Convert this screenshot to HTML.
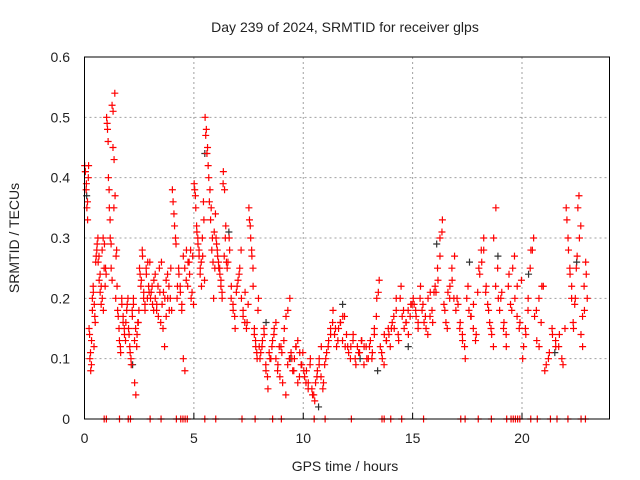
<!DOCTYPE html>
<html><head><meta charset="utf-8"><style>
body{margin:0;background:#fff}
svg{display:block;font-family:"Liberation Sans",sans-serif}
</style></head><body>
<svg id="chart" width="640" height="480">
<rect width="640" height="480" fill="#fff"/>
<g id="grid"></g><g id="pts"></g><g id="axes"></g>
<text x="345" y="32" text-anchor="middle" font-size="14" fill="#222">Day 239 of 2024, SRMTID for receiver glps</text>
<text x="345" y="471" text-anchor="middle" font-size="14" fill="#222">GPS time / hours</text>
<text x="19" y="238" text-anchor="middle" font-size="14" fill="#222" transform="rotate(-90 19 238)">SRMTID / TECUs</text>
</svg>
<script>
const xTicks=[0,5,10,15,20];
const yTicks=[0,0.1,0.2,0.3,0.4,0.5,0.6];
const yTickLabels=["0","0.1","0.2","0.3","0.4","0.5","0.6"];
const groupStart=[0,0.2,0.5,1.0,1.5,2.0,2.5,3.0,4.0,5.0,5.5,6.0,6.5,7.5,8.0,10.0,11.0,12.0,13.0,14.0,15.0,16.0,17.0,18.0,19.0,20.0,21.0,22.0];
const groupEnd=[0.2,0.5,1.0,1.5,2.0,2.5,3.0,4.0,5.0,5.5,6.0,6.5,7.5,8.0,10.0,11.0,12.0,13.0,14.0,15.0,16.0,17.0,18.0,19.0,20.0,21.0,22.0,23.0];
const groupValues=[
[0.42,0.41,0.38,0.35,0.33,0.4],
[0.15,0.1,0.08,0.13,0.2,0.22,0.12,0.17],
[0.26,0.28,0.3,0.27,0.24,0.22,0.2,0.18,0.29,0.25],
[0.5,0.48,0.4,0.35,0.3,0.25,0.52,0.45,0.35,0.54,0.2,0.28],
[0.18,0.15,0.12,0.2,0.17,0.14,0.16,0.19],
[0.15,0.12,0.1,0.18,0.2,0.06,0.04,0.14,0.16],
[0.25,0.22,0.28,0.2,0.18,0.24,0.26,0.21],
[0.2,0.22,0.18,0.24,0.19,0.17,0.21,0.26,0.15,0.12,0.23,0.2,0.18,0.25],
[0.38,0.34,0.3,0.2,0.25,0.22,0.18,0.1,0.08,0.28,0.26,0.24,0.2,0.27],
[0.39,0.37,0.32,0.3,0.28,0.25,0.22,0.27,0.33],
[0.5,0.48,0.45,0.4,0.38,0.35,0.3,0.2,0.25],
[0.3,0.28,0.26,0.25,0.22,0.2,0.41,0.38,0.32],
[0.25,0.3,0.2,0.18,0.15,0.22,0.24,0.28,0.17,0.21,0.16],
[0.35,0.32,0.28,0.25,0.15,0.12,0.1,0.2],
[0.1,0.12,0.15,0.08,0.05,0.1,0.12,0.14,0.16,0.09,0.07,0.11,0.13,0.04,0.18,0.2,0.1,0.08,0.12,0.06,0.11,0.09],
[0.08,0.06,0.05,0.1,0.04,0.03,0.07,0.09,0.12,0.06],
[0.1,0.12,0.14,0.18,0.15,0.13,0.16,0.17,0.12],
[0.12,0.1,0.14,0.09,0.11,0.13,0.12,0.1],
[0.12,0.1,0.15,0.2,0.23,0.11,0.09,0.13,0.14],
[0.15,0.17,0.2,0.13,0.22,0.18,0.16,0.14,0.19],
[0.2,0.18,0.15,0.22,0.19,0.17,0.14,0.21,0.16],
[0.22,0.25,0.3,0.33,0.18,0.15,0.2,0.23,0.27],
[0.2,0.15,0.13,0.1,0.22,0.17,0.19,0.14],
[0.25,0.28,0.3,0.22,0.18,0.15,0.12,0.35,0.2],
[0.2,0.15,0.12,0.24,0.18,0.27,0.22,0.16],
[0.1,0.15,0.2,0.28,0.3,0.18,0.12,0.22],
[0.08,0.1,0.15,0.12,0.14,0.09],
[0.35,0.3,0.25,0.22,0.15,0.2,0.27,0.37,0.32,0.12,0.18,0.24]
];
const groupValues2=[
[0.41,0.39,0.36,0.42],
[0.14,0.11,0.09,0.18,0.21,0.19,0.16],
[0.27,0.29,0.26,0.23,0.21,0.19,0.28,0.3,0.25,0.22,0.24],
[0.49,0.46,0.38,0.33,0.29,0.23,0.51,0.43,0.37,0.27,0.22],
[0.17,0.13,0.11,0.19,0.16,0.15,0.13,0.18,0.2],
[0.14,0.11,0.09,0.17,0.19,0.13,0.15,0.12,0.16,0.18],
[0.24,0.23,0.27,0.21,0.19,0.25,0.2,0.22,0.26],
[0.21,0.19,0.23,0.2,0.18,0.22,0.25,0.16,0.19,0.21,0.2,0.17,0.24,0.22,0.2,0.18],
[0.36,0.32,0.29,0.22,0.24,0.21,0.19,0.27,0.25,0.23,0.22,0.26,0.28,0.21,0.19],
[0.38,0.35,0.31,0.29,0.27,0.24,0.26,0.3,0.36,0.23],
[0.47,0.44,0.42,0.36,0.33,0.28,0.26,0.31,0.34],
[0.29,0.27,0.25,0.24,0.23,0.21,0.39,0.27,0.3,0.26],
[0.26,0.28,0.22,0.19,0.17,0.21,0.23,0.25,0.2,0.18,0.16,0.15,0.19],
[0.33,0.3,0.27,0.22,0.14,0.13,0.11,0.18,0.12],
[0.11,0.13,0.14,0.09,0.07,0.11,0.1,0.13,0.15,0.1,0.08,0.12,0.12,0.06,0.15,0.17,0.09,0.1,0.11,0.08,0.1,0.12,0.13,0.07,0.09,0.11],
[0.07,0.08,0.06,0.09,0.05,0.04,0.06,0.08,0.1,0.07,0.05,0.09],
[0.11,0.13,0.15,0.16,0.14,0.12,0.15,0.16,0.13,0.17,0.14],
[0.11,0.12,0.13,0.1,0.12,0.11,0.13,0.09,0.12,0.1],
[0.13,0.11,0.14,0.17,0.21,0.12,0.1,0.14,0.13,0.15,0.12],
[0.16,0.15,0.18,0.14,0.2,0.17,0.15,0.16,0.18,0.17,0.19],
[0.19,0.17,0.16,0.2,0.18,0.16,0.15,0.2,0.17,0.18,0.21],
[0.21,0.23,0.27,0.31,0.19,0.16,0.21,0.22,0.25,0.2,0.18],
[0.19,0.16,0.14,0.12,0.2,0.18,0.17,0.15,0.13,0.21],
[0.24,0.26,0.28,0.21,0.19,0.16,0.14,0.3,0.22,0.25,0.18],
[0.21,0.16,0.14,0.22,0.19,0.25,0.2,0.17,0.15,0.23],
[0.12,0.14,0.18,0.25,0.28,0.17,0.13,0.2,0.16,0.22],
[0.09,0.11,0.14,0.13,0.12,0.1,0.15],
[0.33,0.28,0.24,0.2,0.16,0.19,0.25,0.35,0.3,0.14,0.17,0.22,0.26,0.2]
];
const zeroHours=[0.9,1.0,1.6,2.0,2.1,3.0,3.5,4.2,4.4,4.5,4.6,4.7,5.5,6.0,7.2,7.8,8.6,9.0,10.5,11.0,12.2,13.6,13.7,14.0,14.5,15.5,17.2,17.4,18.0,18.6,19.3,19.5,19.6,19.7,19.8,19.9,20.4,20.7,21.3,21.6,22.1,22.7,22.9];
const blackHours=[0.1,2.2,5.5,6.6,8.3,9.4,10.7,11.8,12.6,13.4,14.8,16.1,17.6,18.9,20.3,21.5,22.5];
const blackValues=[0.37,0.09,0.44,0.31,0.16,0.1,0.02,0.19,0.1,0.08,0.12,0.29,0.26,0.27,0.24,0.11,0.26];
const L=84.5,R=609.5,T=57,B=419,xmax=24,ymax=0.6;
const X=h=>L+(R-L)*h/xmax, Y=v=>B-(B-T)*v/ymax;
const NS="http://www.w3.org/2000/svg";
function mk(tag,attrs,parent){const e=document.createElementNS(NS,tag);for(const k in attrs)e.setAttribute(k,attrs[k]);parent.appendChild(e);return e;}
const grid=document.getElementById('grid'),pts=document.getElementById('pts'),axes=document.getElementById('axes');
xTicks.forEach(t=>{
 const g=mk('line',{x1:X(t),x2:X(t),y1:T,y2:B,stroke:'#a0a0a0','stroke-dasharray':'2,3'},grid);
 
 
 const tk=mk('line',{x1:X(t),x2:X(t),y1:B,y2:B-6,stroke:'#000'},axes);
 
 
 const lb=mk('text',{x:X(t),y:B+24,'text-anchor':'middle','font-size':14,fill:'#222'},axes);
 lb.textContent=t;
 
 
});
yTicks.forEach((t,i)=>{
 const g=mk('line',{x1:L,x2:R,y1:Y(t),y2:Y(t),stroke:'#a0a0a0','stroke-dasharray':'2,3'},grid);
 
 
 const lb=mk('text',{x:70,y:Y(t)+5,'text-anchor':'end','font-size':14,fill:'#222'},axes);
 lb.textContent=yTickLabels[i];
 
 
});
const fr=mk('rect',{x:L,y:T,width:R-L,height:B-T,fill:'none',stroke:'#000','stroke-width':1},axes);


function plus(h,v,col){
 const x=X(h),y=Y(v);
 return mk('path',{d:`M${x-3.5} ${y}H${x+3.5}M${x} ${y-3.5}V${y+3.5}`,stroke:col,'stroke-width':1.2,fill:'none'},pts);
}
blackHours.forEach((h,i)=>{
 const p=plus(h,blackValues[i],'#333');
 
 
});
[groupValues,groupValues2].forEach((gv,k)=>{
 gv.forEach((vals,gi)=>{
  const s=groupStart[gi],e=groupEnd[gi];
  vals.forEach((v,j)=>{
   const h=s+(e-s)*(j+0.25+0.5*k)/vals.length;
   const p=plus(h,v,'#f00');
   
   
  });
 });
});
zeroHours.forEach(h=>{
 const p=plus(h,0,'#f00');
 
 
});
</script>
</body></html>
